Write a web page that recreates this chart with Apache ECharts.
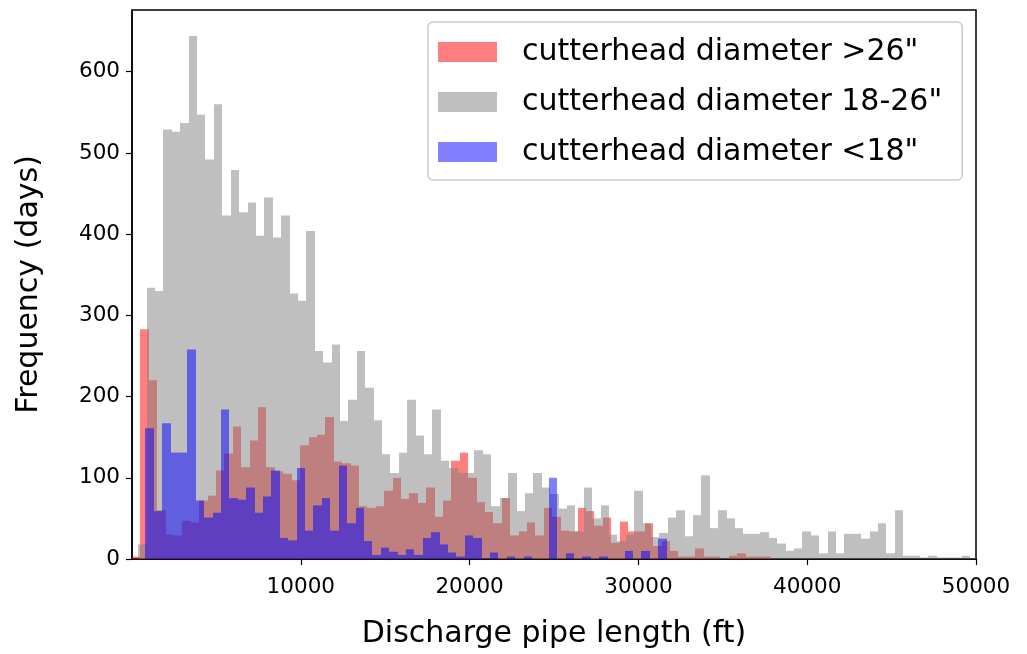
<!DOCTYPE html>
<html><head><meta charset="utf-8">
<script src="https://cdn.jsdelivr.net/npm/echarts@6/dist/echarts.min.js"></script>
<style>html,body{margin:0;padding:0;background:#fff}#c{width:1027px;height:654px}</style>
</head><body><div id="c"></div>
<script>
const seriesNames = ['cutterhead diameter >26"', 'cutterhead diameter 18-26"', 'cutterhead diameter <18"'];
const binWidth = 498;
const redStart = 0;
const redCounts = [3,283,220,60,30,29,47,45,72,78,109,130,163,113,146,187,113,108,105,97,140,150,153,175,120,118,115,65,63,65,84,100,74,81,69,88,52,72,121,131,100,70,58,44,75,29,34,45,29,63,52,35,34,63,59,41,51,20,46,34,34,44,16,22,10,3,3,13,3,3,0,4,7,3,3,3];
const grayStart = 370;
const grayCounts = [18,334,330,529,526,537,644,547,492,560,423,479,427,439,398,445,396,423,327,318,404,256,242,264,170,196,256,211,171,129,106,131,196,152,129,184,121,112,106,106,134,129,65,75,106,59,81,106,88,80,62,66,34,88,50,66,30,22,30,84,44,27,32,51,60,28,54,103,38,60,50,38,31,31,33,26,19,10,13,34,29,7,34,7,31,31,25,34,44,7,60,4,4,2,4,2,2,2,4,1];
const blueStart = 792;
const blueCounts = [161,59,167,131,131,258,72,51,57,184,75,73,88,57,77,109,26,23,112,35,66,75,35,115,44,63,22,5,14,9,5,12,5,26,33,18,8,3,29,26,1,8,0,3,0,3,0,0,100,0,7,0,3,0,3,0,0,10,0,10,0,25];
const xTicks = [10000,20000,30000,40000,50000];
const yTicks = [0,100,200,300,400,500,600];
const xMax = 50000, yMax = 676;

function toBins(start, counts){
  return counts.map((c,i)=>[start+i*binWidth, start+(i+1)*binWidth, c]);
}
const FONT = 'DejaVu Sans';
function renderItem(params, api){
  const x0 = api.value(0), x1 = api.value(1), y = api.value(2);
  if (!y) return null;
  const p0 = api.coord([x0, y]);
  const p1 = api.coord([x1, 0]);
  const xa = Math.round(p0[0]), xb = Math.round(p1[0]);
  return {type:'rect', shape:{x:xa, y:p0[1], width:xb-xa, height:p1[1]-p0[1]},
    style:{fill: api.visual('color')}};
}
const colors = ['rgba(255,0,0,0.5)','rgba(128,128,128,0.5)','rgba(0,0,255,0.5)'];
const starts = [redStart, grayStart, blueStart];
const counts = [redCounts, grayCounts, blueCounts];
const chart = echarts.init(document.getElementById('c'));
chart.setOption({
  animation:false,
  textStyle:{fontFamily:FONT},
  grid:{left:132, right:51, top:10, bottom:95, show:true, borderColor:'#000', borderWidth:1.5, backgroundColor:'transparent'},
  legend:{
    orient:'vertical', left:428, top:22, icon:'rect', itemWidth:59, itemHeight:20, itemGap:14,
    padding:[12,20,10,10], borderColor:'#ccc', borderWidth:1.5, borderRadius:5, backgroundColor:'rgba(255,255,255,0.8)',
    textStyle:{fontFamily:FONT, fontSize:30, color:'#000', padding:[0,0,0,20], lineHeight:36},
    data: seriesNames
  },
  xAxis:{type:'value', min:0, max:xMax,
    name:'Discharge pipe length (ft)', nameLocation:'middle', nameGap:60,
    nameTextStyle:{fontFamily:FONT, fontSize:30, color:'#000'},
    axisLine:{show:true, lineStyle:{color:'#000', width:1.5}},
    axisTick:{show:true, length:6, lineStyle:{color:'#000', width:1.2}, customValues:xTicks},
    axisLabel:{customValues:xTicks, fontFamily:FONT, fontSize:21.5, color:'#000', margin:17, formatter:(v)=>String(v)},
    splitLine:{show:false}},
  yAxis:{type:'value', min:0, max:yMax,
    name:'Frequency (days)', nameLocation:'middle', nameGap:88, nameRotate:90,
    nameTextStyle:{fontFamily:FONT, fontSize:30, color:'#000'},
    axisLine:{show:true, lineStyle:{color:'#000', width:1.5}},
    axisTick:{show:true, length:6, lineStyle:{color:'#000', width:1.2}, customValues:yTicks},
    axisLabel:{customValues:yTicks, fontFamily:FONT, fontSize:21.5, color:'#000', margin:12, formatter:(v)=>String(v)},
    splitLine:{show:false}},
  series: seriesNames.map((n,k)=>({
    type:'custom', name:n, renderItem, clip:true,
    itemStyle:{color:colors[k]}, color:colors[k],
    encode:{x:[0,1], y:2},
    data: toBins(starts[k], counts[k])
  }))
});
</script></body></html>
